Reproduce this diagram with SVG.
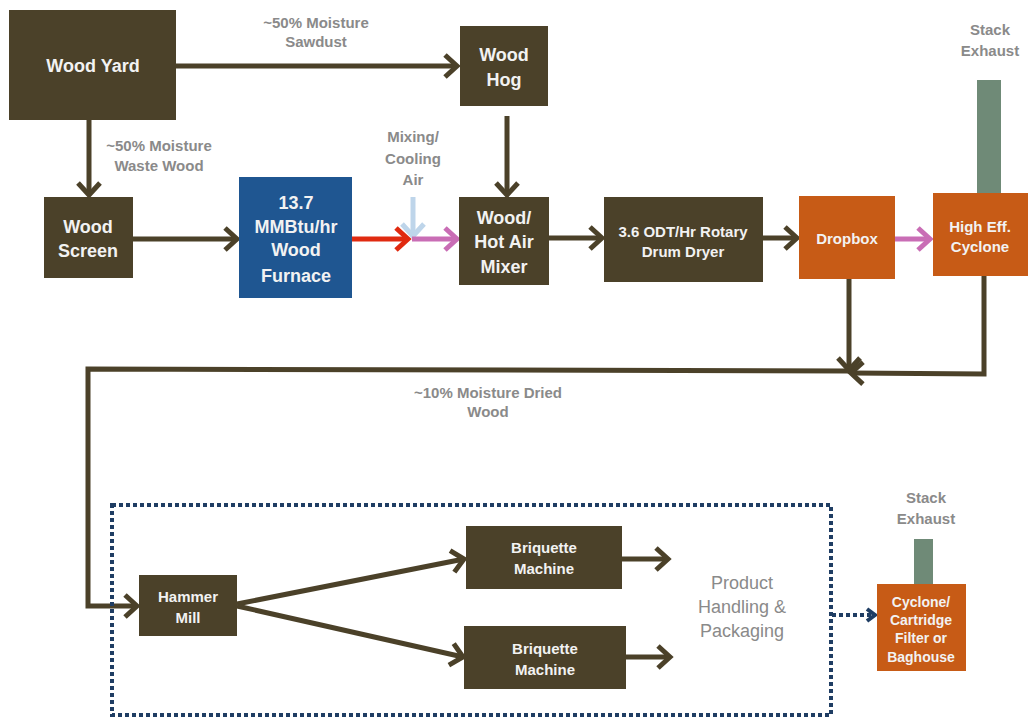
<svg xmlns="http://www.w3.org/2000/svg" width="1028" height="719" viewBox="0 0 1028 719">
<style>
.box{fill:#4b4129}
.org{fill:#c75b16}
.blu{fill:#1f5691}
.stk{fill:#6f8a77}
.t{font-family:"Liberation Sans Narrow","Liberation Sans",Arial,sans-serif;font-weight:bold;fill:#f2f2f2;text-anchor:middle}
.lbl{font-family:"Liberation Sans Narrow","Liberation Sans",Arial,sans-serif;font-weight:bold;fill:#8a8a8a;text-anchor:middle;font-size:15px}
.ph{font-family:"Liberation Sans","Arial",sans-serif;fill:#8a8a8a;text-anchor:middle;font-size:18px}
.ln{fill:none;stroke:#4b4129;stroke-width:5}
</style>
<defs>
<marker id="ad" markerUnits="userSpaceOnUse" viewBox="0 0 18 26" refX="15" refY="13" markerWidth="18" markerHeight="26" orient="auto" overflow="visible">
<path d="M3,2 L15,13 L3,24" fill="none" stroke="#4b4129" stroke-width="5"/>
</marker>
<marker id="ar" markerUnits="userSpaceOnUse" viewBox="0 0 18 26" refX="15" refY="13" markerWidth="18" markerHeight="26" orient="auto" overflow="visible">
<path d="M3,2 L15,13 L3,24" fill="none" stroke="#e02a10" stroke-width="5"/>
</marker>
<marker id="ap" markerUnits="userSpaceOnUse" viewBox="0 0 18 26" refX="15" refY="13" markerWidth="18" markerHeight="26" orient="auto" overflow="visible">
<path d="M3,2 L15,13 L3,24" fill="none" stroke="#c96db5" stroke-width="5"/>
</marker>
<marker id="al" markerUnits="userSpaceOnUse" viewBox="0 0 18 26" refX="15" refY="13" markerWidth="18" markerHeight="26" orient="auto" overflow="visible">
<path d="M3,2 L15,13 L3,24" fill="none" stroke="#bed5ea" stroke-width="5"/>
</marker>
<marker id="an" markerUnits="userSpaceOnUse" viewBox="0 0 12 16" refX="10" refY="8" markerWidth="12" markerHeight="16" orient="auto" overflow="visible">
<path d="M2,2 L10,8 L2,14" fill="none" stroke="#1f3d63" stroke-width="4"/>
</marker>
</defs>

<g id="connectors">
<path class="ln" d="M176,66 L457,66" marker-end="url(#ad)"/>
<path class="ln" d="M89,120 L89,195" marker-end="url(#ad)"/>
<path class="ln" d="M507,116 L507,195" marker-end="url(#ad)"/>
<path class="ln" d="M133,239 L237,239" marker-end="url(#ad)"/>
<path d="M352,239 L408,239" fill="none" stroke="#e02a10" stroke-width="5" marker-end="url(#ar)"/>
<path d="M413,197 L413,236" fill="none" stroke="#bed5ea" stroke-width="5" marker-end="url(#al)"/>
<path d="M412,239 L457,239" fill="none" stroke="#c96db5" stroke-width="5" marker-end="url(#ap)"/>
<path class="ln" d="M549,238 L602,238" marker-end="url(#ad)"/>
<path class="ln" d="M763,238 L797,238" marker-end="url(#ad)"/>
<path d="M895,239 L930,239" fill="none" stroke="#c96db5" stroke-width="5" marker-end="url(#ap)"/>
<path class="ln" d="M849,279 L849,370" marker-end="url(#ad)"/>
<path class="ln" d="M984,276 L984,374 L851,373" marker-end="url(#ad)"/>
<path class="ln" d="M849,371 L88,369 L88,606 L137,606" marker-end="url(#ad)"/>
<path class="ln" d="M237,604 L464,559" marker-end="url(#ad)"/>
<path class="ln" d="M237,606 L463,657" marker-end="url(#ad)"/>
<path class="ln" d="M622,559 L668,559" marker-end="url(#ad)"/>
<path class="ln" d="M626,657 L670,657" marker-end="url(#ad)"/>
<path d="M832,615 L875,615" fill="none" stroke="#1f3d63" stroke-width="4" stroke-dasharray="4,3" marker-end="url(#an)"/>
</g>

<rect id="boundary" x="112" y="505" width="719" height="210" fill="none" stroke="#1f3d63" stroke-width="4" stroke-dasharray="4,3"/>

<g id="wood-yard"><rect class="box" x="9" y="10" width="167" height="110"/><text class="t" x="93" y="72" font-size="18">Wood Yard</text></g>
<g id="wood-hog"><rect class="box" x="460" y="26" width="88" height="80"/><text class="t" x="504" y="61" font-size="18">Wood</text><text class="t" x="504" y="86" font-size="18">Hog</text></g>
<g id="wood-screen"><rect class="box" x="44" y="197" width="89" height="81"/><text class="t" x="88" y="233" font-size="18">Wood</text><text class="t" x="88" y="257" font-size="18">Screen</text></g>
<g id="furnace"><rect class="blu" x="239" y="177" width="113" height="121"/><text class="t" x="296" y="209" font-size="18">13.7</text><text class="t" x="296" y="233" font-size="18">MMBtu/hr</text><text class="t" x="296" y="256" font-size="18">Wood</text><text class="t" x="296" y="282" font-size="18">Furnace</text></g>
<g id="mixer"><rect class="box" x="459" y="197" width="90" height="88"/><text class="t" x="504" y="224" font-size="18">Wood/</text><text class="t" x="504" y="248" font-size="18">Hot Air</text><text class="t" x="504" y="273" font-size="18">Mixer</text></g>
<g id="dryer"><rect class="box" x="604" y="197" width="159" height="85"/><text class="t" x="683" y="237" font-size="15">3.6 ODT/Hr Rotary</text><text class="t" x="683" y="257" font-size="15">Drum Dryer</text></g>
<g id="dropbox"><rect class="org" x="799" y="196" width="96" height="83"/><text class="t" x="847" y="244" font-size="15">Dropbox</text></g>
<g id="cyclone"><rect class="stk" x="977" y="80" width="24" height="114"/><rect class="org" x="933" y="193" width="95" height="83"/><text class="t" x="980" y="232" font-size="15">High Eff.</text><text class="t" x="980" y="252" font-size="15">Cyclone</text></g>
<g id="hammer-mill"><rect class="box" x="139" y="575" width="98" height="61"/><text class="t" x="188" y="602" font-size="15">Hammer</text><text class="t" x="188" y="623" font-size="15">Mill</text></g>
<g id="briquette-1"><rect class="box" x="466" y="526" width="156" height="63"/><text class="t" x="544" y="553" font-size="15">Briquette</text><text class="t" x="544" y="574" font-size="15">Machine</text></g>
<g id="briquette-2"><rect class="box" x="464" y="626" width="162" height="63"/><text class="t" x="545" y="654" font-size="15">Briquette</text><text class="t" x="545" y="675" font-size="15">Machine</text></g>
<g id="product-handling"><text class="ph" x="742" y="589">Product</text><text class="ph" x="742" y="613">Handling &amp;</text><text class="ph" x="742" y="637">Packaging</text></g>
<g id="baghouse"><rect class="stk" x="914" y="539" width="19" height="46"/><rect class="org" x="877" y="584" width="89" height="87"/><text class="t" x="921" y="607" font-size="14">Cyclone/</text><text class="t" x="921" y="625" font-size="14">Cartridge</text><text class="t" x="921" y="643" font-size="14">Filter or</text><text class="t" x="921" y="662" font-size="14">Baghouse</text></g>

<g id="labels">
<text class="lbl" x="316" y="28">~50% Moisture</text><text class="lbl" x="316" y="47">Sawdust</text>
<text class="lbl" x="159" y="151">~50% Moisture</text><text class="lbl" x="159" y="171">Waste Wood</text>
<text class="lbl" x="413" y="142">Mixing/</text><text class="lbl" x="413" y="164">Cooling</text><text class="lbl" x="413" y="185">Air</text>
<text class="lbl" x="990" y="35">Stack</text><text class="lbl" x="990" y="56">Exhaust</text>
<text class="lbl" x="488" y="398">~10% Moisture Dried</text><text class="lbl" x="488" y="417">Wood</text>
<text class="lbl" x="926" y="503">Stack</text><text class="lbl" x="926" y="524">Exhaust</text>
</g>
</svg>
